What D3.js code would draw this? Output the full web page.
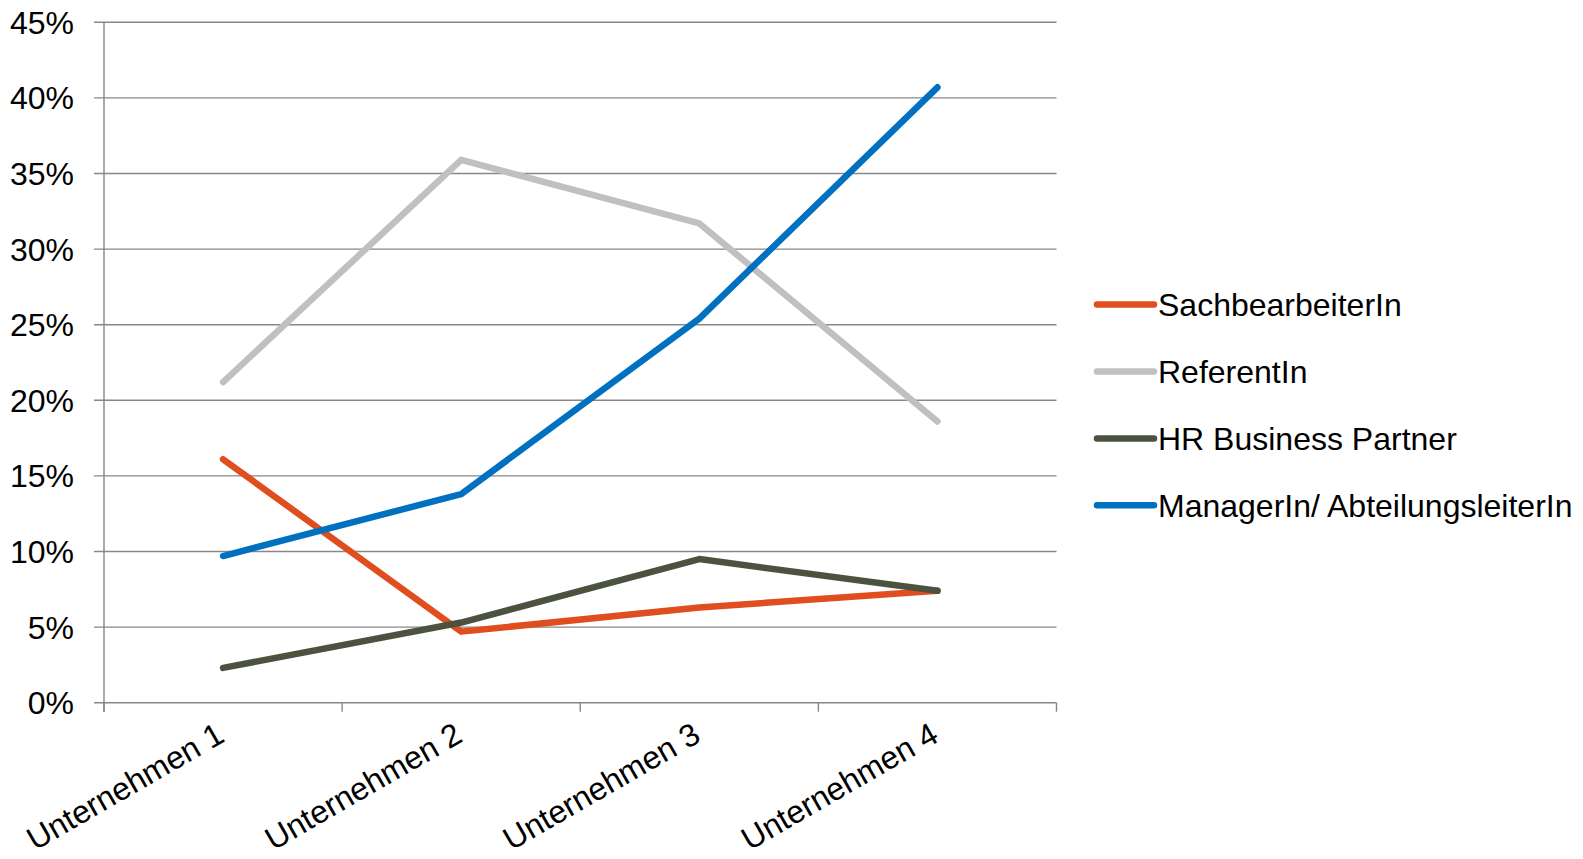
<!DOCTYPE html>
<html>
<head>
<meta charset="utf-8">
<script src="https://cdn.jsdelivr.net/npm/d3@7"></script>
<style>
  html, body { margin: 0; padding: 0; background: #fff; }
  svg { display: block; font-family: "Liberation Sans", Arial, sans-serif; }
</style>
</head>
<body>
<svg id="chart" width="1583" height="859"></svg>
<script>
const categories = ["Unternehmen 1", "Unternehmen 2", "Unternehmen 3", "Unternehmen 4"];
const seriesNames = ["SachbearbeiterIn", "ReferentIn", "HR Business Partner", "ManagerIn/ AbteilungsleiterIn"];
const sachbearbeiter = [0.161, 0.047, 0.063, 0.074];
const referent = [0.212, 0.359, 0.317, 0.186];
const hrBusinessPartner = [0.023, 0.053, 0.095, 0.074];
const manager = [0.097, 0.138, 0.254, 0.407];
const yTicks = [0, 0.05, 0.10, 0.15, 0.20, 0.25, 0.30, 0.35, 0.40, 0.45];
const colors = ["#E04E1F", "#C0C0C0", "#4B5340", "#0070C0"];

const series = [sachbearbeiter, referent, hrBusinessPartner, manager];

(function () {
const svg = d3.select("#chart");
const mLeft = 104, mRight = 1056.5, mTop = 22.3, mBottom = 702.7;
const gridColor = "#878787";
const fontSize = 32;

const x = d3.scaleBand().domain(categories).range([mLeft, mRight]).padding(0);
const y = d3.scaleLinear().domain([0, 0.45]).range([mBottom, mTop]);
const cx = c => x(c) + x.bandwidth() / 2;

// Gridlines + y tick marks
svg.append("g").selectAll("line").data(yTicks).join("line")
  .attr("x1", mLeft - 10).attr("x2", mRight)
  .attr("y1", d => y(d)).attr("y2", d => y(d))
  .attr("stroke", gridColor).attr("stroke-width", 1.4);

// y axis line
svg.append("line")
  .attr("x1", mLeft).attr("x2", mLeft).attr("y1", mTop).attr("y2", mBottom + 9)
  .attr("stroke", gridColor).attr("stroke-width", 1.4);

// x tick marks at band boundaries
const boundaries = categories.map(c => x(c)).concat([mRight]);
svg.append("g").selectAll("line").data(boundaries).join("line")
  .attr("x1", d => d).attr("x2", d => d)
  .attr("y1", mBottom).attr("y2", mBottom + 9)
  .attr("stroke", gridColor).attr("stroke-width", 1.4);

// y labels
svg.append("g").selectAll("text").data(yTicks).join("text")
  .attr("x", 74).attr("y", d => y(d) + 11.5)
  .attr("text-anchor", "end")
  .attr("font-size", fontSize).attr("fill", "#000")
  .text(d => d3.format(".0%")(d));

// x labels rotated
svg.append("g").selectAll("text").data(categories).join("text")
  .attr("text-anchor", "end")
  .attr("font-size", fontSize).attr("fill", "#000")
  .attr("transform", c => `translate(${cx(c) + 3},${mBottom + 38}) rotate(-30)`)
  .text(c => c);

// lines
const line = d3.line().x((d, i) => cx(categories[i])).y(d => y(d));
svg.append("g").selectAll("path").data(series).join("path")
  .attr("d", d => line(d))
  .attr("fill", "none")
  .attr("stroke", (d, i) => colors[i])
  .attr("stroke-width", 6.5)
  .attr("stroke-linecap", "round")
  .attr("stroke-linejoin", "round");

// legend
const legendY = [304.5, 371.5, 438.5, 505.3];
const lg = svg.append("g").selectAll("g").data(seriesNames).join("g")
  .attr("transform", (d, i) => `translate(1097,${legendY[i]})`);
lg.append("line").attr("x1", 0).attr("x2", 57).attr("y1", 0).attr("y2", 0)
  .attr("stroke", (d, i) => colors[i]).attr("stroke-width", 6.5).attr("stroke-linecap", "round");
lg.append("text").attr("x", 61).attr("y", 11.5)
  .attr("font-size", 32).attr("fill", "#000").text(d => d);
})();
</script>
</body>
</html>
